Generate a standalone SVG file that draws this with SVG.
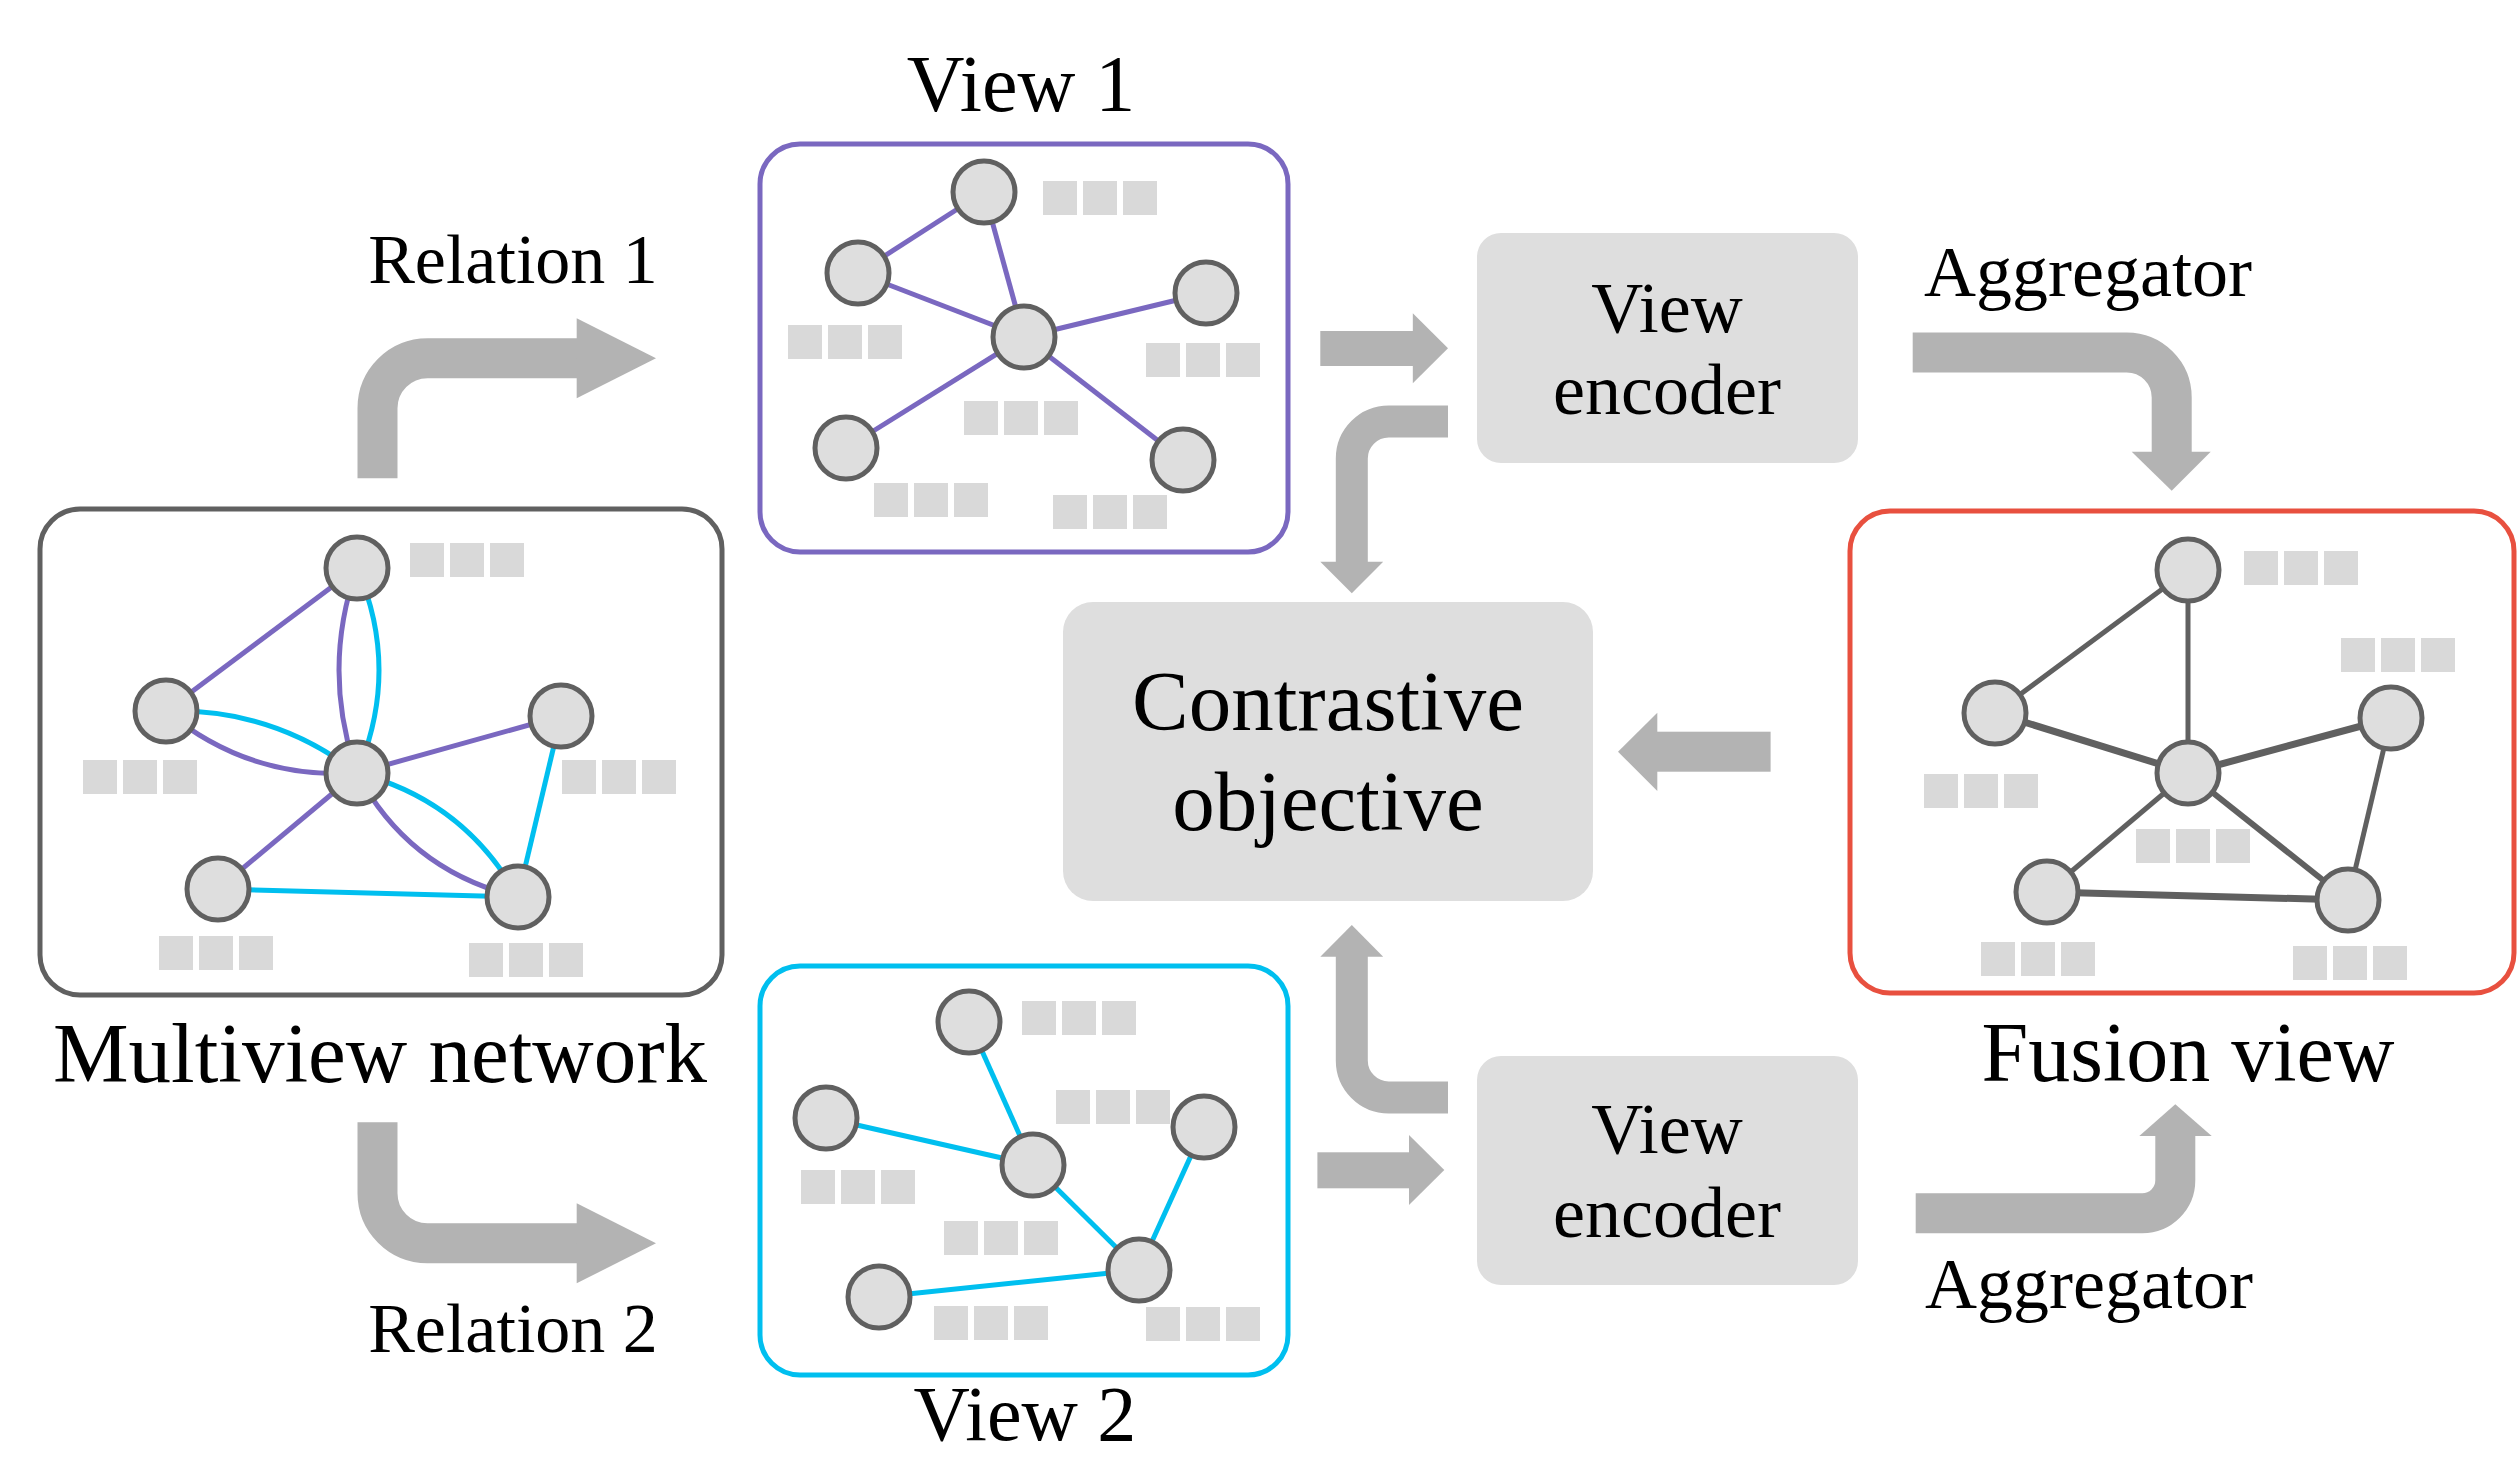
<svg xmlns="http://www.w3.org/2000/svg" width="2518" height="1458" viewBox="0 0 2518 1458">
<defs>
<style>
.t{font-family:"Liberation Serif","Times New Roman",serif;fill:#000;text-anchor:middle}
.nd{fill:#dedede;stroke:#606060;stroke-width:5}
.ep{stroke:#7a68c0;stroke-width:5;fill:none}
.ec{stroke:#00bfef;stroke-width:5;fill:none}
.eg{stroke:#606060;fill:none}
.box{fill:#dedede}
.arr{fill:#b3b3b3}
.sh{stroke:#b3b3b3;fill:none}
</style>
<g id="feat" fill="#d9d9d9"><rect x="0" y="0" width="34" height="34"/><rect x="40" y="0" width="34" height="34"/><rect x="80" y="0" width="34" height="34"/></g>
</defs>
<rect width="2518" height="1458" fill="#fff"/>

<g id="multiview">
<rect x="40" y="509" width="682" height="486" rx="40" fill="#fff" stroke="#606060" stroke-width="5"/>
<line class="ep" x1="357" y1="568" x2="166" y2="711"/>
<path class="ep" d="M357,568 Q321,670 357,773"/>
<path class="ec" d="M357,568 Q401,670 357,773"/>
<path class="ep" d="M166,711 Q249,780 357,773"/>
<path class="ec" d="M166,711 Q273,708 357,773"/>
<line class="ep" x1="357" y1="773" x2="561" y2="716"/>
<line class="ep" x1="357" y1="773" x2="218" y2="889"/>
<path class="ep" d="M357,773 Q409,871 518,897"/>
<path class="ec" d="M357,773 Q464,800 518,897"/>
<line class="ec" x1="561" y1="716" x2="518" y2="897"/>
<line class="ec" x1="218" y1="889" x2="518" y2="897"/>
<circle class="nd" cx="357" cy="568" r="31"/>
<circle class="nd" cx="166" cy="711" r="31"/>
<circle class="nd" cx="561" cy="716" r="31"/>
<circle class="nd" cx="357" cy="773" r="31"/>
<circle class="nd" cx="218" cy="889" r="31"/>
<circle class="nd" cx="518" cy="897" r="31"/>
<use href="#feat" x="410" y="543"/>
<use href="#feat" x="83" y="760"/>
<use href="#feat" x="562" y="760"/>
<use href="#feat" x="159" y="936"/>
<use href="#feat" x="469" y="943"/>
<text class="t" x="380" y="1082" font-size="85">Multiview network</text>
</g>

<g id="view1">
<rect x="760" y="144" width="528" height="408" rx="40" fill="#fff" stroke="#7a68c0" stroke-width="5"/>
<line class="ep" x1="984" y1="192" x2="858" y2="273"/>
<line class="ep" x1="984" y1="192" x2="1024" y2="337"/>
<line class="ep" x1="858" y1="273" x2="1024" y2="337"/>
<line class="ep" x1="1024" y1="337" x2="1206" y2="293"/>
<line class="ep" x1="1024" y1="337" x2="846" y2="448"/>
<line class="ep" x1="1024" y1="337" x2="1183" y2="460"/>
<circle class="nd" cx="984" cy="192" r="31"/>
<circle class="nd" cx="858" cy="273" r="31"/>
<circle class="nd" cx="1024" cy="337" r="31"/>
<circle class="nd" cx="1206" cy="293" r="31"/>
<circle class="nd" cx="846" cy="448" r="31"/>
<circle class="nd" cx="1183" cy="460" r="31"/>
<use href="#feat" x="1043" y="181"/>
<use href="#feat" x="788" y="325"/>
<use href="#feat" x="1146" y="343"/>
<use href="#feat" x="964" y="401"/>
<use href="#feat" x="874" y="483"/>
<use href="#feat" x="1053" y="495"/>
<text class="t" x="1021" y="111" font-size="80">View 1</text>
</g>

<g id="view2">
<rect x="760" y="966" width="528" height="409" rx="40" fill="#fff" stroke="#00bfef" stroke-width="5"/>
<line class="ec" x1="969" y1="1022" x2="1033" y2="1165"/>
<line class="ec" x1="826" y1="1118" x2="1033" y2="1165"/>
<line class="ec" x1="1033" y1="1165" x2="1139" y2="1270"/>
<line class="ec" x1="1204" y1="1127" x2="1139" y2="1270"/>
<line class="ec" x1="879" y1="1297" x2="1139" y2="1270"/>
<circle class="nd" cx="969" cy="1022" r="31"/>
<circle class="nd" cx="826" cy="1118" r="31"/>
<circle class="nd" cx="1033" cy="1165" r="31"/>
<circle class="nd" cx="1204" cy="1127" r="31"/>
<circle class="nd" cx="1139" cy="1270" r="31"/>
<circle class="nd" cx="879" cy="1297" r="31"/>
<use href="#feat" x="1022" y="1001"/>
<use href="#feat" x="1056" y="1090"/>
<use href="#feat" x="801" y="1170"/>
<use href="#feat" x="944" y="1221"/>
<use href="#feat" x="934" y="1306"/>
<use href="#feat" x="1146" y="1307"/>
<text class="t" x="1025" y="1440" font-size="78">View 2</text>
</g>

<g id="fusion">
<rect x="1850" y="511" width="664" height="482" rx="40" fill="#fff" stroke="#e8503f" stroke-width="5"/>
<line class="eg" stroke-width="5" x1="2188" y1="570" x2="1995" y2="713"/>
<line class="eg" stroke-width="5" x1="2188" y1="570" x2="2188" y2="773"/>
<line class="eg" stroke-width="7" x1="1995" y1="713" x2="2188" y2="773"/>
<line class="eg" stroke-width="7" x1="2188" y1="773" x2="2391" y2="718"/>
<line class="eg" stroke-width="5" x1="2188" y1="773" x2="2047" y2="892"/>
<line class="eg" stroke-width="6" x1="2188" y1="773" x2="2348" y2="900"/>
<line class="eg" stroke-width="5" x1="2391" y1="718" x2="2348" y2="900"/>
<line class="eg" stroke-width="7" x1="2047" y1="892" x2="2348" y2="900"/>
<circle class="nd" cx="2188" cy="570" r="31"/>
<circle class="nd" cx="1995" cy="713" r="31"/>
<circle class="nd" cx="2188" cy="773" r="31"/>
<circle class="nd" cx="2391" cy="718" r="31"/>
<circle class="nd" cx="2047" cy="892" r="31"/>
<circle class="nd" cx="2348" cy="900" r="31"/>
<use href="#feat" x="2244" y="551"/>
<use href="#feat" x="2341" y="638"/>
<use href="#feat" x="1924" y="774"/>
<use href="#feat" x="2136" y="829"/>
<use href="#feat" x="1981" y="942"/>
<use href="#feat" x="2293" y="946"/>
<text class="t" x="2188" y="1081" font-size="84">Fusion view</text>
</g>

<g id="contrastive">
<rect class="box" x="1063" y="602" width="530" height="299" rx="30"/>
<text class="t" x="1328" y="730" font-size="85">Contrastive</text>
<text class="t" x="1328" y="830" font-size="85">objective</text>
</g>

<g id="encoder1">
<rect class="box" x="1477" y="233" width="381" height="230" rx="24"/>
<text class="t" x="1667" y="332" font-size="72">View</text>
<text class="t" x="1667" y="414" font-size="72">encoder</text>
</g>

<g id="encoder2">
<rect class="box" x="1477" y="1056" width="381" height="229" rx="24"/>
<text class="t" x="1667" y="1153" font-size="72">View</text>
<text class="t" x="1667" y="1237" font-size="72">encoder</text>
</g>

<g id="labels">
<text class="t" x="513" y="283" font-size="70">Relation 1</text>
<text class="t" x="513" y="1352" font-size="70">Relation 2</text>
<text class="t" x="2088" y="296" font-size="72">Aggregator</text>
<text class="t" x="2089" y="1308" font-size="72">Aggregator</text>
</g>

<g id="connectors">
<path class="sh" stroke-width="40" d="M377.5,478.3 V408.3 A50,50 0 0 1 427.5,358.3 H577.7"/>
<polygon class="arr" points="576.7,318.3 656,358.3 576.7,398.3"/>
<path class="sh" stroke-width="40" d="M377.5,1122.3 V1193.3 A50,50 0 0 0 427.5,1243.3 H577.7"/>
<polygon class="arr" points="576.7,1203.3 656,1243.3 576.7,1283.3"/>
<rect class="arr" x="1320.3" y="331" width="93.5" height="35"/>
<polygon class="arr" points="1412.8,313.3 1448,348.3 1412.8,383.3"/>
<rect class="arr" x="1317.4" y="1152.3" width="92.6" height="36"/>
<polygon class="arr" points="1409,1135 1444.3,1170 1409,1205"/>
<path class="sh" stroke-width="32" d="M1448,421.5 H1388.8 A37,37 0 0 0 1351.8,458.5 V562.7"/>
<polygon class="arr" points="1320.3,561.7 1383.2,561.7 1351.8,593.3"/>
<path class="sh" stroke-width="32" d="M1448,1097.5 H1388.8 A37,37 0 0 1 1351.8,1060.5 V955.7"/>
<polygon class="arr" points="1320.3,956.7 1383.2,956.7 1351.8,925"/>
<rect class="arr" x="1656.3" y="731.7" width="114.3" height="40"/>
<polygon class="arr" points="1657.3,712.7 1618,751.7 1657.3,791"/>
<path class="sh" stroke-width="40" d="M1912.7,352.5 H2126.7 A45,45 0 0 1 2171.7,397.5 V452.7"/>
<polygon class="arr" points="2131.7,451.7 2210.7,451.7 2171.7,490.7"/>
<path class="sh" stroke-width="40" d="M1915.7,1213.3 H2142.3 A33,33 0 0 0 2175.3,1180.3 V1135"/>
<polygon class="arr" points="2139.3,1136 2211.7,1136 2175.3,1104.3"/>
</g>
</svg>
